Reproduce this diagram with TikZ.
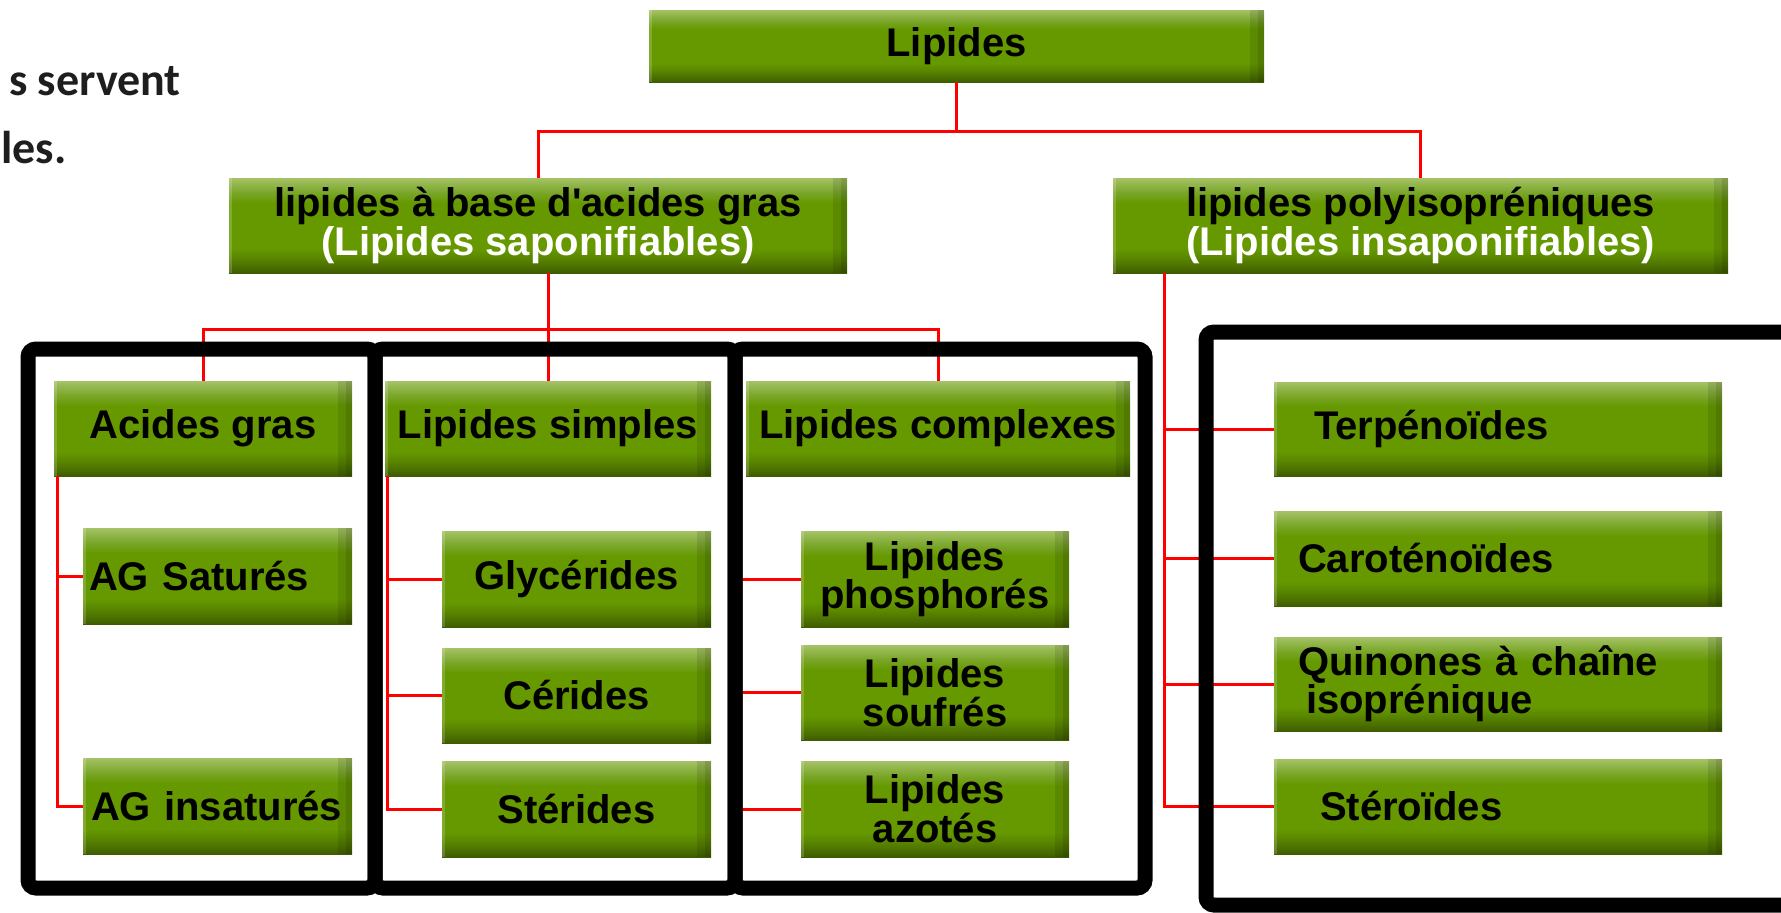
\documentclass[tikz,border=0pt]{standalone}
\usepackage{fontspec}
\setmainfont{Liberation Sans}
\newfontfamily\calfont{Carlito}
\usetikzlibrary{calc}
\definecolor{gT}{HTML}{A6C267}
\definecolor{gL2}{HTML}{93B74E}
\definecolor{gL}{HTML}{78A526}
\definecolor{gM}{HTML}{669900}
\definecolor{gD}{HTML}{598600}
\definecolor{gB2}{HTML}{4A6D00}
\definecolor{gB}{HTML}{3E5C00}
\definecolor{txtgray}{HTML}{1E1E1E}
\pgfdeclareverticalshading{greenbar}{100bp}{color(0bp)=(gB); color(25bp)=(gB); color(28bp)=(gB2); color(33bp)=(gD); color(38bp)=(gM); color(62bp)=(gM); color(67bp)=(gL); color(72bp)=(gL2); color(75bp)=(gT); color(100bp)=(gT)}
\tikzset{
  gnode/.style={shading=greenbar, inner sep=0pt, outer sep=0pt, anchor=north west,
    font=\fontsize{40}{34}\selectfont\bfseries, text=black,
    path picture={
      \fill[black,opacity=.10] ([xshift=-14pt]path picture bounding box.north east) rectangle (path picture bounding box.south east);
      \fill[black,opacity=.10] ([xshift=-6pt]path picture bounding box.north east) rectangle (path picture bounding box.south east);
      \fill[white,opacity=.18] (path picture bounding box.north west) rectangle ([xshift=3pt]path picture bounding box.south west);
    }},
  conn/.style={draw=red, line width=3pt},
  frame/.style={draw=black, line width=15pt, rounded corners=8pt},
  lefttext/.style={font=\calfont\fontsize{46}{46}\selectfont\bfseries, text=txtgray, inner sep=0pt}
}
\begin{document}
\begin{tikzpicture}[x=1pt,y=-1pt]
\fill[white] (0,0) rectangle (1781,913);
\useasboundingbox (0,0) rectangle (1781,913);

% left cut-off text
\node[lefttext, anchor=base east] (t1) at (181,95) {s servent};
\node[lefttext, anchor=base west] (t2) at (1,163) {les.};

\path
  node[gnode, minimum width=615pt, minimum height=72pt] (lip) at (649,10) {Lipides}
  node[gnode, minimum width=618pt, minimum height=95pt, align=center] (hdrL) at (229,178) {lipides à base d\textquotesingle acides gras\\\textcolor{white}{(Lipides saponifiables)}}
  node[gnode, minimum width=615pt, minimum height=95pt, align=center] (hdrR) at (1113,178) {lipides polyisopréniques\\\textcolor{white}{(Lipides insaponifiables)}};

% connectors
\coordinate (j1) at ($(lip.south)+(0,49)$);
\draw[conn] (lip.south) -- (j1);
\draw[conn] (hdrL.north) |- (j1) -| (hdrR.north);

\path node[gnode, minimum width=298pt, minimum height=95pt] (ag) at (54,381) {Acides gras};
\path node[gnode, minimum width=326pt, minimum height=95pt] (ls) at (385,381) {Lipides simples};
\path node[gnode, minimum width=384pt, minimum height=95pt] (lc) at (746,381) {Lipides complexes};

\coordinate (j2) at ($(ls.north)+(0,-52)$);
\draw[conn] (j2 |- hdrL.south) -- (ls.north);
\draw[conn] (ag.north) |- (j2) -| (lc.north);

\coordinate (a1) at ($(ag.south west)+(3,0)$);
\coordinate (s1) at ($(ls.south west)+(2,0)$);
\coordinate (c1) at ($(lc.south west)+(-11,0)$);
\coordinate (r1) at ($(hdrR.south west)+(51,0)$);

% second-level nodes
\path node[gnode, minimum width=269pt, minimum height=96pt, text width=269pt, align=left] (agsat) at (83,528) {\hspace*{6pt}AG Saturés};
\path node[gnode, minimum width=269pt, minimum height=96pt, text width=269pt, align=left] (agins) at (83,758) {\hspace*{8pt}AG insaturés};
\path node[gnode, minimum width=269pt, minimum height=96pt] (gly) at (442,531) {Glycérides};
\path node[gnode, minimum width=269pt, minimum height=95pt] (cer) at (442,648) {Cérides};
\path node[gnode, minimum width=269pt, minimum height=96pt] (ster) at (442,761) {Stérides};
\path node[gnode, minimum width=268pt, minimum height=96pt, align=center] (phos) at (801,531) {Lipides\\phosphorés};
\path node[gnode, minimum width=268pt, minimum height=95pt, align=center] (souf) at (801,645) {Lipides\\soufrés};
\path node[gnode, minimum width=268pt, minimum height=96pt, align=center] (azot) at (801,761) {Lipides\\azotés};
\path node[gnode, minimum width=448pt, minimum height=94pt, text width=448pt, align=left] (terp) at (1274,382) {\hspace*{40pt}Terpénoïdes};
\path node[gnode, minimum width=448pt, minimum height=95pt, text width=448pt, align=left] (caro) at (1274,511) {\hspace*{24pt}Caroténoïdes};
\path node[gnode, minimum width=448pt, minimum height=94pt, text width=448pt, align=left] (quin) at (1274,637) {\hspace*{24pt}Quinones à chaîne\\\hspace*{32pt}isoprénique};
\path node[gnode, minimum width=448pt, minimum height=95pt, text width=448pt, align=left] (stero) at (1274,759) {\hspace*{46pt}Stéroïdes};

% branch connectors
\draw[conn] (a1) |- (agsat.west);
\draw[conn] (a1) |- (agins.west);
\draw[conn] (s1) |- (gly.west);
\draw[conn] (s1) |- (cer.west);
\draw[conn] (s1) |- (ster.west);
\draw[conn] (c1) |- (phos.west);
\draw[conn] (c1) |- (souf.west);
\draw[conn] (c1) |- (azot.west);
\draw[conn] (r1) |- (terp.west);
\draw[conn] (r1) |- (caro.west);
\draw[conn] (r1) |- (quin.west);
\draw[conn] (r1) |- (stero.west);

% frames
\draw[frame] (28,349) rectangle (375,888);
\draw[frame] (375,349) rectangle (735,888);
\draw[frame] (735,349) rectangle (1145,888);
\draw[frame] (1206,332) rectangle (1800,905);
\end{tikzpicture}
\end{document}
